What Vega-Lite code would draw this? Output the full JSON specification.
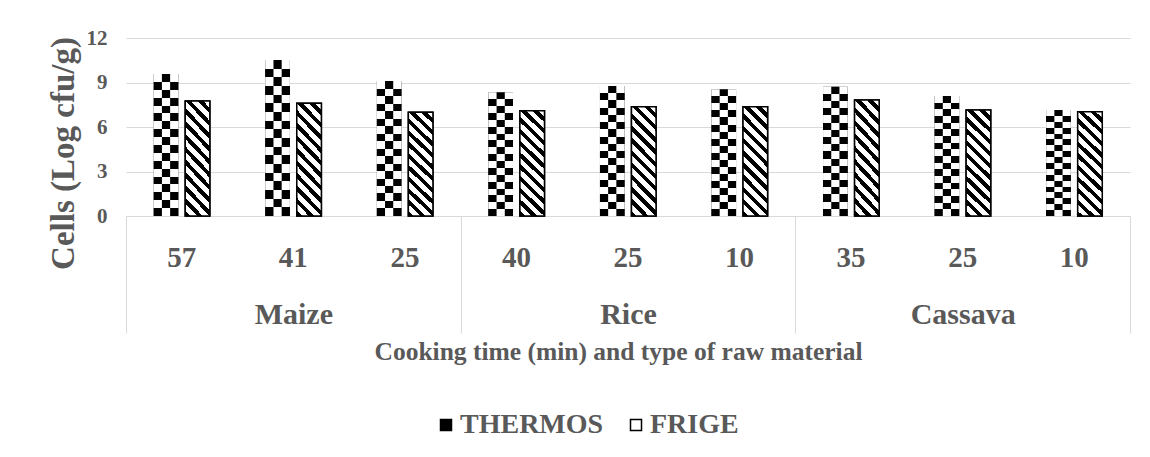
{
  "$schema": "https://vega.github.io/schema/vega-lite/v6.json",
  "width": 1004,
  "height": 178,
  "autosize": "none",
  "padding": {"left": 126, "top": 38, "right": 20, "bottom": 241},
  "background": "white",
  "config": {
    "view": {"stroke": null},
    "font": "Liberation Serif",
    "axis": {"labelFont": "Liberation Serif", "titleFont": "Liberation Serif", "labelFontWeight": "bold", "titleFontWeight": "bold", "labelColor": "#595959", "titleColor": "#595959"},
    "legend": {"labelFont": "Liberation Serif", "labelFontWeight": "bold", "labelColor": "#595959"}
  },
  "data": {
    "values": [
      {"material": "Maize", "time": "57", "storage": "THERMOS", "value": 9.57},
      {"material": "Maize", "time": "57", "storage": "FRIGE", "value": 7.75},
      {"material": "Maize", "time": "41", "storage": "THERMOS", "value": 10.52},
      {"material": "Maize", "time": "41", "storage": "FRIGE", "value": 7.6},
      {"material": "Maize", "time": "25", "storage": "THERMOS", "value": 9.1},
      {"material": "Maize", "time": "25", "storage": "FRIGE", "value": 7.0},
      {"material": "Rice", "time": "40", "storage": "THERMOS", "value": 8.34},
      {"material": "Rice", "time": "40", "storage": "FRIGE", "value": 7.1},
      {"material": "Rice", "time": "25", "storage": "THERMOS", "value": 8.77},
      {"material": "Rice", "time": "25", "storage": "FRIGE", "value": 7.37},
      {"material": "Rice", "time": "10", "storage": "THERMOS", "value": 8.54},
      {"material": "Rice", "time": "10", "storage": "FRIGE", "value": 7.37},
      {"material": "Cassava", "time": "35", "storage": "THERMOS", "value": 8.72},
      {"material": "Cassava", "time": "35", "storage": "FRIGE", "value": 7.82},
      {"material": "Cassava", "time": "25", "storage": "THERMOS", "value": 8.09},
      {"material": "Cassava", "time": "25", "storage": "FRIGE", "value": 7.15},
      {"material": "Cassava", "time": "10", "storage": "THERMOS", "value": 7.15},
      {"material": "Cassava", "time": "10", "storage": "FRIGE", "value": 7.03}
    ]
  },
  "transform": [{"calculate": "datum.material + '-' + datum.time", "as": "cat"}],
  "layer": [
    {
      "encoding": {
        "x": {
          "field": "cat", "type": "nominal",
          "scale": {"domain": ["Maize-57", "Maize-41", "Maize-25", "Rice-40", "Rice-25", "Rice-10", "Cassava-35", "Cassava-25", "Cassava-10"], "paddingInner": 0, "paddingOuter": 0},
          "axis": {"title": null, "labelExpr": "split(datum.value, '-')[1]", "labelFontSize": 29, "labelPadding": 41, "labelBaseline": "middle", "labelAngle": 0, "ticks": false, "domain": false, "grid": false}
        },
        "xOffset": {"field": "storage", "type": "nominal", "scale": {"domain": ["THERMOS", "FRIGE"], "paddingInner": 0.22, "paddingOuter": 0.88}},
        "y": {
          "field": "value", "type": "quantitative",
          "scale": {"domain": [0, 12]},
          "axis": {"values": [0, 3, 6, 9, 12], "title": "Cells (Log cfu/g)", "titleFontSize": 33, "titleX": -63, "titleY": 115, "titleAngle": -90, "titleBaseline": "middle", "titleAlign": "center", "labelFontSize": 21, "labelPadding": 19, "labelBaseline": "middle", "ticks": false, "domain": false, "grid": true, "gridColor": "#d9d9d9", "gridWidth": 1}
        }
      },
      "layer": [
        {
          "mark": {"type": "bar"},
          "encoding": {
            "fill": {
              "field": "storage", "type": "nominal",
              "scale": {"domain": ["THERMOS", "FRIGE"], "range": ["#000000", "#ffffff"]},
              "legend": {"orient": "none", "legendX": 306, "legendY": 373, "direction": "horizontal", "title": null, "symbolType": "square", "symbolSize": 121, "symbolStrokeColor": "#000000", "symbolStrokeWidth": 1.5, "labelFontSize": 28, "labelOffset": 0, "columnPadding": 18}
            },
            "stroke": {"value": "#000000"},
            "strokeWidth": {"condition": {"test": "datum.storage === 'FRIGE'", "value": 1.5}, "value": 0}
          }
        },
        {
          "transform": [{"filter": "datum.storage === 'FRIGE'"}],
          "mark": {"type": "bar", "stroke": "#000000", "strokeWidth": 1.5, "fill": {"gradient": "linear", "x1": 0, "y1": 1, "x2": 0.265, "y2": -0.167, "stops": [
            {"offset": 0, "color": "#000000"}, {"offset": 0.0409, "color": "#000000"}, {"offset": 0.0409, "color": "#ffffff"}, {"offset": 0.0909, "color": "#ffffff"},
            {"offset": 0.0909, "color": "#000000"}, {"offset": 0.1318, "color": "#000000"}, {"offset": 0.1318, "color": "#ffffff"}, {"offset": 0.1818, "color": "#ffffff"},
            {"offset": 0.1818, "color": "#000000"}, {"offset": 0.2227, "color": "#000000"}, {"offset": 0.2227, "color": "#ffffff"}, {"offset": 0.2727, "color": "#ffffff"},
            {"offset": 0.2727, "color": "#000000"}, {"offset": 0.3136, "color": "#000000"}, {"offset": 0.3136, "color": "#ffffff"}, {"offset": 0.3636, "color": "#ffffff"},
            {"offset": 0.3636, "color": "#000000"}, {"offset": 0.4045, "color": "#000000"}, {"offset": 0.4045, "color": "#ffffff"}, {"offset": 0.4545, "color": "#ffffff"},
            {"offset": 0.4545, "color": "#000000"}, {"offset": 0.4954, "color": "#000000"}, {"offset": 0.4954, "color": "#ffffff"}, {"offset": 0.5455, "color": "#ffffff"},
            {"offset": 0.5455, "color": "#000000"}, {"offset": 0.5864, "color": "#000000"}, {"offset": 0.5864, "color": "#ffffff"}, {"offset": 0.6364, "color": "#ffffff"},
            {"offset": 0.6364, "color": "#000000"}, {"offset": 0.6773, "color": "#000000"}, {"offset": 0.6773, "color": "#ffffff"}, {"offset": 0.7273, "color": "#ffffff"},
            {"offset": 0.7273, "color": "#000000"}, {"offset": 0.7682, "color": "#000000"}, {"offset": 0.7682, "color": "#ffffff"}, {"offset": 0.8182, "color": "#ffffff"},
            {"offset": 0.8182, "color": "#000000"}, {"offset": 0.8591, "color": "#000000"}, {"offset": 0.8591, "color": "#ffffff"}, {"offset": 0.9091, "color": "#ffffff"},
            {"offset": 0.9091, "color": "#000000"}, {"offset": 0.95, "color": "#000000"}, {"offset": 0.95, "color": "#ffffff"}, {"offset": 1, "color": "#ffffff"}
          ]}}
        },
        {
          "transform": [{"filter": "datum.storage === 'THERMOS'"}],
          "mark": {"type": "bar", "fill": {"gradient": "linear", "x1": 0, "y1": 0, "x2": 0, "y2": 1, "stops": [
            {"offset": 0, "color": "#ffffff"}, {"offset": 0.0556, "color": "#ffffff"},
            {"offset": 0.0556, "color": "#000000"}, {"offset": 0.1111, "color": "#000000"},
            {"offset": 0.1111, "color": "#ffffff"}, {"offset": 0.1667, "color": "#ffffff"},
            {"offset": 0.1667, "color": "#000000"}, {"offset": 0.2222, "color": "#000000"},
            {"offset": 0.2222, "color": "#ffffff"}, {"offset": 0.2778, "color": "#ffffff"},
            {"offset": 0.2778, "color": "#000000"}, {"offset": 0.3333, "color": "#000000"},
            {"offset": 0.3333, "color": "#ffffff"}, {"offset": 0.3889, "color": "#ffffff"},
            {"offset": 0.3889, "color": "#000000"}, {"offset": 0.4444, "color": "#000000"},
            {"offset": 0.4444, "color": "#ffffff"}, {"offset": 0.5, "color": "#ffffff"},
            {"offset": 0.5, "color": "#000000"}, {"offset": 0.5556, "color": "#000000"},
            {"offset": 0.5556, "color": "#ffffff"}, {"offset": 0.6111, "color": "#ffffff"},
            {"offset": 0.6111, "color": "#000000"}, {"offset": 0.6667, "color": "#000000"},
            {"offset": 0.6667, "color": "#ffffff"}, {"offset": 0.7222, "color": "#ffffff"},
            {"offset": 0.7222, "color": "#000000"}, {"offset": 0.7778, "color": "#000000"},
            {"offset": 0.7778, "color": "#ffffff"}, {"offset": 0.8333, "color": "#ffffff"},
            {"offset": 0.8333, "color": "#000000"}, {"offset": 0.8889, "color": "#000000"},
            {"offset": 0.8889, "color": "#ffffff"}, {"offset": 0.9444, "color": "#ffffff"},
            {"offset": 0.9444, "color": "#000000"}, {"offset": 1, "color": "#000000"}
          ]}}
        },
        {
          "transform": [{"filter": "datum.storage === 'THERMOS'"}],
          "mark": {"type": "bar", "width": 8.2, "fill": {"gradient": "linear", "x1": 0, "y1": 0, "x2": 0, "y2": 1, "stops": [
            {"offset": 0, "color": "#000000"}, {"offset": 0.0556, "color": "#000000"},
            {"offset": 0.0556, "color": "#ffffff"}, {"offset": 0.1111, "color": "#ffffff"},
            {"offset": 0.1111, "color": "#000000"}, {"offset": 0.1667, "color": "#000000"},
            {"offset": 0.1667, "color": "#ffffff"}, {"offset": 0.2222, "color": "#ffffff"},
            {"offset": 0.2222, "color": "#000000"}, {"offset": 0.2778, "color": "#000000"},
            {"offset": 0.2778, "color": "#ffffff"}, {"offset": 0.3333, "color": "#ffffff"},
            {"offset": 0.3333, "color": "#000000"}, {"offset": 0.3889, "color": "#000000"},
            {"offset": 0.3889, "color": "#ffffff"}, {"offset": 0.4444, "color": "#ffffff"},
            {"offset": 0.4444, "color": "#000000"}, {"offset": 0.5, "color": "#000000"},
            {"offset": 0.5, "color": "#ffffff"}, {"offset": 0.5556, "color": "#ffffff"},
            {"offset": 0.5556, "color": "#000000"}, {"offset": 0.6111, "color": "#000000"},
            {"offset": 0.6111, "color": "#ffffff"}, {"offset": 0.6667, "color": "#ffffff"},
            {"offset": 0.6667, "color": "#000000"}, {"offset": 0.7222, "color": "#000000"},
            {"offset": 0.7222, "color": "#ffffff"}, {"offset": 0.7778, "color": "#ffffff"},
            {"offset": 0.7778, "color": "#000000"}, {"offset": 0.8333, "color": "#000000"},
            {"offset": 0.8333, "color": "#ffffff"}, {"offset": 0.8889, "color": "#ffffff"},
            {"offset": 0.8889, "color": "#000000"}, {"offset": 0.9444, "color": "#000000"},
            {"offset": 0.9444, "color": "#ffffff"}, {"offset": 1, "color": "#ffffff"}
          ]}}
        }
      ]
    },
    {
      "mark": {"type": "text", "text": ""},
      "encoding": {
        "x": {
          "field": "material", "type": "nominal",
          "scale": {"domain": ["Maize", "Rice", "Cassava"], "paddingInner": 0, "paddingOuter": 0},
          "axis": {"orient": "bottom", "title": "Cooking time (min) and type of raw material", "titleFontSize": 25.5, "titleX": 492, "titleAlign": "center", "titleY": 135, "titleBaseline": "middle", "labelFontSize": 30, "labelPadding": -19, "labelBaseline": "middle", "labelAngle": 0, "tickBand": "extent", "ticks": true, "tickSize": 117, "tickColor": "#d9d9d9", "tickWidth": 1, "domain": true, "domainColor": "#d9d9d9", "domainWidth": 1, "grid": false}
        }
      }
    }
  ],
  "resolve": {"scale": {"x": "independent"}}
}
